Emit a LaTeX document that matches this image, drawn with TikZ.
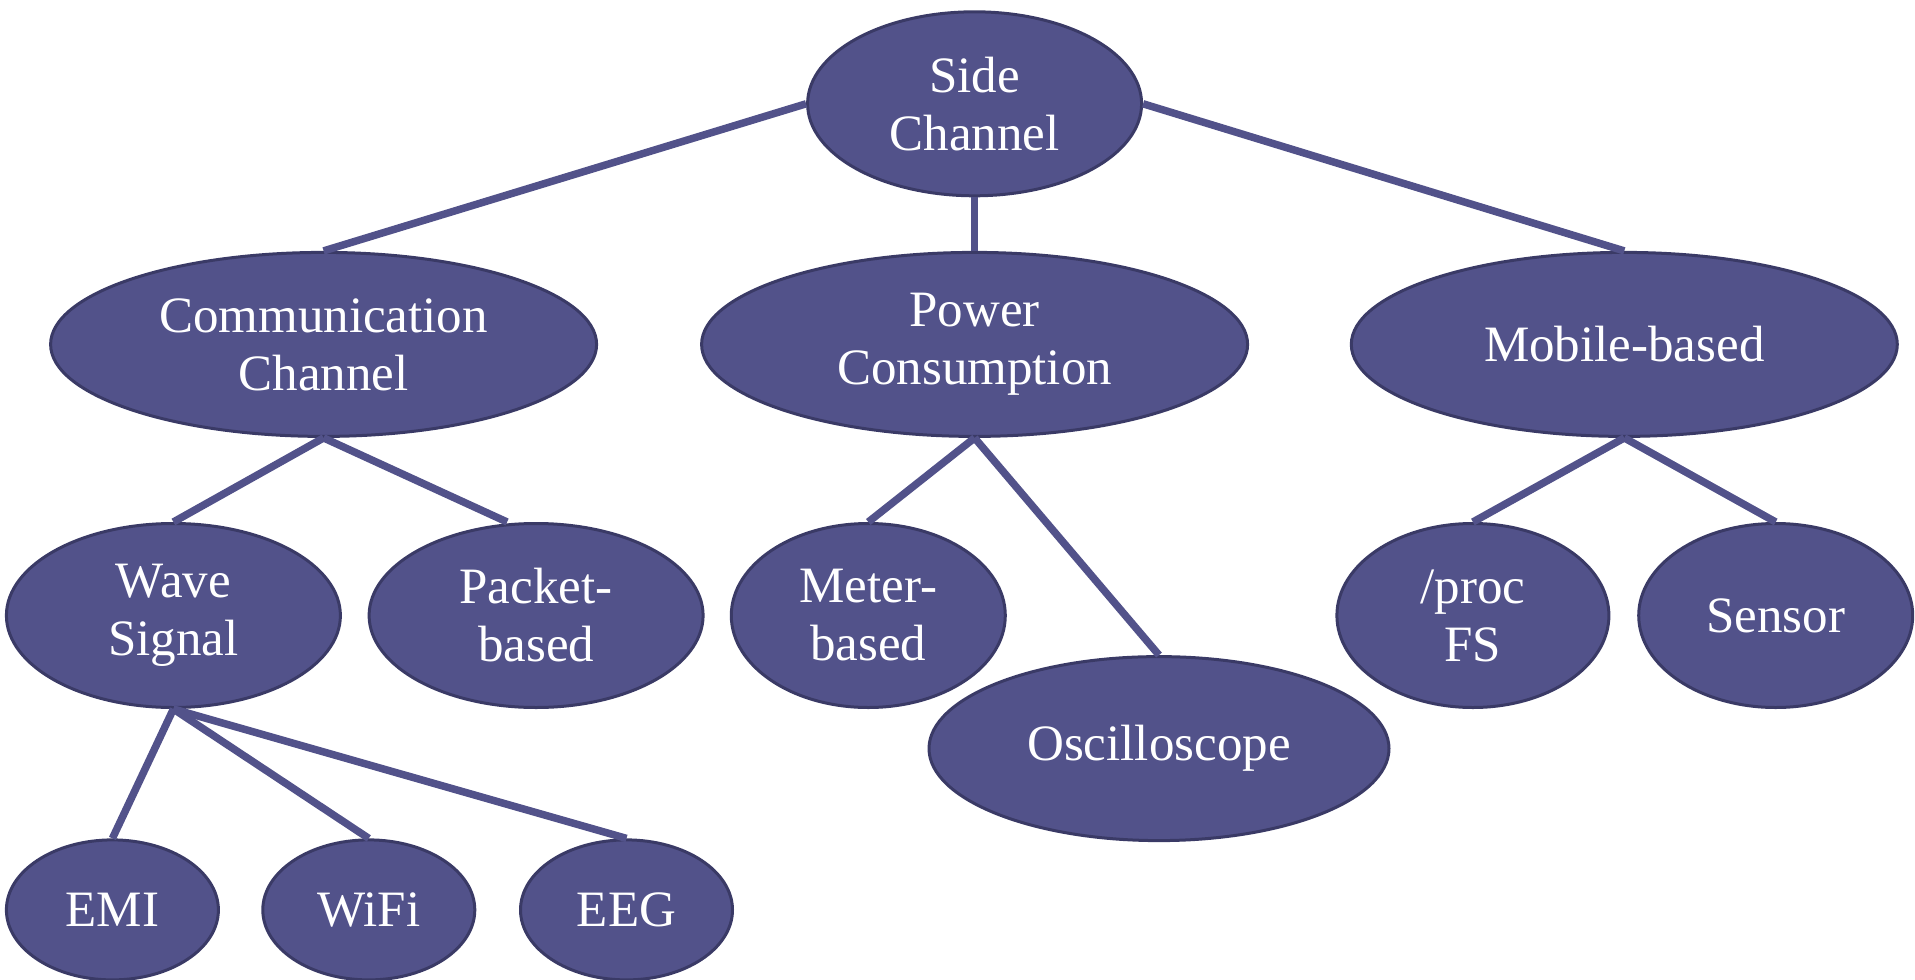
\documentclass[tikz,border=0pt]{standalone}
\usepackage{fontspec}
\setmainfont{Liberation Serif}
\usetikzlibrary{shapes.geometric}
\definecolor{nodefill}{HTML}{52528A}
\definecolor{nodeedge}{HTML}{3A3A66}
\definecolor{linkcol}{HTML}{52528A}
\tikzset{
  oval/.style={ellipse, fill=nodefill, draw=nodeedge, line width=3pt,
    inner sep=0pt, text=white, align=center,
    font=\fontsize{51}{58}\selectfont},
  bigoval/.style={oval, minimum width=546pt, minimum height=184pt},
  midoval/.style={oval, minimum width=334pt, minimum height=184pt},
  leafoval/.style={oval, minimum width=212pt, minimum height=140pt},
  link/.style={draw=linkcol, line width=7.5pt}
}
\begin{document}
\begin{tikzpicture}[x=1pt,y=-1pt]
\useasboundingbox (0,0) rectangle (1915,980);
% root
\node[midoval] (sc) at (974.6,103.8) {Side\\Channel};
% second level
\node[bigoval] (cc) at (323.6,344.4) {Communication\\Channel};
\node[bigoval] (pc) at (974.6,344.4) {Power\\Consumption};
\node[bigoval] (mb) at (1624.3,344.4) {Mobile-based};
% third level
\node[midoval] (ws) at (173.4,615.5) {Wave\\Signal};
\node[midoval] (pb) at (536.1,615.5) {Packet-\\based};
\node[oval, minimum width=274pt, minimum height=184pt] (mt) at (868.3,615.5) {Meter-\\based};
\node[oval, minimum width=460pt, minimum height=184pt] (os) at (1159,748.6) {Oscilloscope};
\node[oval, minimum width=272pt, minimum height=184pt] (pf) at (1472.9,615.5) {/proc\\FS};
\node[oval, minimum width=274pt, minimum height=184pt] (se) at (1775.7,615.5) {Sensor};
% leaves
\node[leafoval] (emi) at (112.4,909.9) {EMI};
\node[leafoval] (wifi) at (368.8,909.9) {WiFi};
\node[leafoval] (eeg) at (626.5,909.9) {EEG};
% connectors
\draw[link] (sc.west) -- (cc.north);
\draw[link] (sc.south) -- (pc.north);
\draw[link] (sc.east) -- (mb.north);
\draw[link] (cc.south) -- (ws.north);
\draw[link] (cc.south) -- ([xshift=-29pt]pb.north);
\draw[link] (pc.south) -- (mt.north);
\draw[link] (pc.south) -- (os.north);
\draw[link] (mb.south) -- (pf.north);
\draw[link] (mb.south) -- (se.north);
\draw[link] (ws.south) -- (emi.north);
\draw[link] (ws.south) -- (wifi.north);
\draw[link] (ws.south) -- (eeg.north);
\end{tikzpicture}
\end{document}
